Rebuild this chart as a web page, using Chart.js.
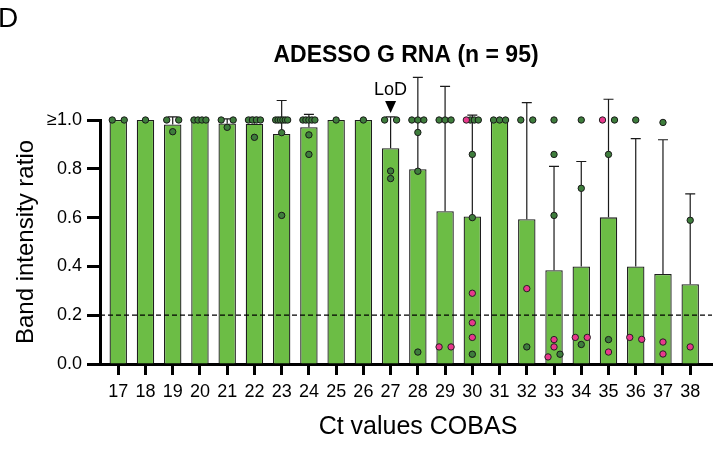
<!DOCTYPE html>
<html>
<head>
<meta charset="utf-8">
<script src="https://cdn.jsdelivr.net/npm/chart.js@4"></script>
<style>
  body { margin: 0; background: #fff; }
  #wrap { width: 717px; height: 450px; position: relative; }
</style>
</head>
<body>
<div id="wrap"><canvas id="band-chart"></canvas></div>
<script>
// Ct values on the x axis
const categories = [17, 18, 19, 20, 21, 22, 23, 24, 25, 26, 27, 28, 29, 30, 31, 32, 33, 34, 35, 36, 37, 38];

// bar height (mean ratio) and top of the error bar for each Ct value
const meanRatio = [1.0, 1.0, 0.982, 1.0, 0.986, 0.985, 0.943, 0.970, 1.0, 1.0, 0.884, 0.798,
                   0.626, 0.605, 1.0, 0.593, 0.384, 0.400, 0.601, 0.400, 0.369, 0.327];
const errorTop = [null, null, 1.013, null, 1.005, 1.011, 1.080, 1.023, null, null, 1.013, 1.175,
                  1.138, 1.020, null, 1.071, 0.810, 0.830, 1.085, 0.924, 0.919, 0.697];

// individual samples, dark green and pink
const greenPoints = [
    [1, 1], [1], [1, 1, 0.952], [1, 1, 1, 1], [1, 1, 0.970], [1, 1, 1, 1, 0.929],
    [1, 1, 1, 1, 1, 1, 0.948, 0.609], [1, 1, 1, 1, 1, 0.939, 0.859], [1], [1],
    [1, 1, 0.791, 0.760], [1, 1, 1, 0.949, 0.790, 0.049], [1, 1, 1],
    [1, 1, 1, 0.859, 0.600, 0.040], [1, 1, 1], [1, 1, 0.070], [1, 0.859, 0.609, 0.040],
    [1, 0.720, 0.080], [1, 0.859, 0.100], [1], [0.990], [0.589]
];
const pinkPoints = [
    [], [], [], [], [], [], [], [], [], [], [], [], [0.070, 0.070],
    [1, 0.290, 0.169, 0.109], [], [0.309], [0.100, 0.070, 0.029],
    [0.109, 0.109], [1, 0.049], [0.101, 0.109], [0.090, 0.041], [0.070]
];

const yTickLabels = ['0.0', '0.2', '0.4', '0.6', '0.8', '≥1.0'];
const cutoff = 0.2;
const lodCategory = 27;

const X_MIN = 16.33;
const X_MAX = 38.8;

Chart.defaults.font.family = '"Liberation Sans", Arial, sans-serif';
Chart.defaults.color = '#000';

// spread samples that sit at (nearly) the same height side by side
function layoutPoints() {
    const green = [], pink = [];
    categories.forEach((cat, i) => {
        const pts = pinkPoints[i].map(v => ({ v, pink: true }))
            .concat(greenPoints[i].map(v => ({ v, pink: false })));
        pts.sort((a, b) => b.v - a.v);
        let groups = [];
        pts.forEach(p => {
            const last = groups[groups.length - 1];
            if (last && Math.abs(last[last.length - 1].v - p.v) < 0.025) last.push(p);
            else groups.push([p]);
        });
        groups.forEach(g => {
            g.sort((a, b) => (b.pink - a.pink));
            const n = g.length;
            g.forEach((p, k) => {
                const dx = n === 1 ? 0 : -0.22 + k * 0.44 / (n - 1);
                (p.pink ? pink : green).push({ x: cat + dx, y: p.v });
            });
        });
    });
    return { green, pink };
}

const pts = layoutPoints();

const errorBars = {
    id: 'errorBars',
    afterDatasetDraw(chart, args) {
        if (args.meta.type !== 'bar') return;
        const { ctx, scales: { x, y } } = chart;
        ctx.save();
        ctx.strokeStyle = '#1a1a1a';
        ctx.lineWidth = 1.2;
        categories.forEach((cat, i) => {
            if (errorTop[i] == null) return;
            const px = x.getPixelForValue(cat);
            const y0 = y.getPixelForValue(meanRatio[i]);
            const y1 = y.getPixelForValue(errorTop[i]);
            ctx.beginPath();
            ctx.moveTo(px, y0);
            ctx.lineTo(px, y1);
            ctx.moveTo(px - 5, y1);
            ctx.lineTo(px + 5, y1);
            ctx.stroke();
        });
        ctx.restore();
    }
};

const annotations = {
    id: 'annotations',
    afterDraw(chart) {
        const { ctx, chartArea, scales: { x, y } } = chart;
        ctx.save();
        // panel letter
        ctx.fillStyle = '#000';
        ctx.font = '28px "Liberation Sans", Arial, sans-serif';
        ctx.textBaseline = 'alphabetic';
        ctx.textAlign = 'left';
        ctx.fillText('D', -2, 27);

        // x axis title, sits a little right of centre
        ctx.font = '25px "Liberation Sans", Arial, sans-serif';
        ctx.textAlign = 'center';
        ctx.textBaseline = 'middle';
        ctx.fillText('Ct values COBAS', (chartArea.left + chartArea.right) / 2 + 12, x.bottom - 23);

        // LoD marker above the Ct 27 bar
        const px = x.getPixelForValue(lodCategory);
        const top = y.getPixelForValue(1);
        ctx.font = '18px "Liberation Sans", Arial, sans-serif';
        ctx.fillText('LoD', px, top - 30);
        ctx.beginPath();
        ctx.moveTo(px - 5.5, top - 19);
        ctx.lineTo(px + 5.5, top - 19);
        ctx.lineTo(px, top - 7);
        ctx.closePath();
        ctx.fill();
        ctx.restore();
    }
};

const ctx = document.getElementById('band-chart').getContext('2d');
const bandChart = new Chart(ctx, {
    data: {
        datasets: [
            {
                type: 'scatter',
                data: pts.pink,
                backgroundColor: '#e8388c',
                borderColor: '#222',
                borderWidth: 1,
                pointRadius: 3.2,
                clip: false
            },
            {
                type: 'scatter',
                data: pts.green,
                backgroundColor: '#3e7d3c',
                borderColor: '#1a1a1a',
                borderWidth: 1,
                pointRadius: 3.2,
                clip: false
            },
            {
                type: 'line',
                data: [{ x: X_MIN, y: cutoff }, { x: X_MAX, y: cutoff }],
                borderColor: '#000',
                borderWidth: 1.2,
                borderDash: [5, 3],
                pointRadius: 0
            },
            {
                type: 'bar',
                data: categories.map((c, i) => ({ x: c, y: meanRatio[i] })),
                backgroundColor: '#6cbd45',
                borderColor: '#1e1e1e',
                borderWidth: 1.3,
                barPercentage: 0.64,
                categoryPercentage: 1
            }
        ]
    },
    options: {
        responsive: true,
        maintainAspectRatio: false,
        animation: false,
        layout: { padding: { left: 0, right: 4, top: 0, bottom: 0 } },
        plugins: {
            legend: { display: false },
            tooltip: { enabled: false },
            title: {
                display: true,
                fullSize: false,
                text: 'ADESSO G RNA (n = 95)',
                color: '#000',
                font: { size: 23, weight: 'bold' },
                padding: { top: 42, bottom: 50.4 }
            }
        },
        scales: {
            x: {
                type: 'linear',
                offset: false,
                min: X_MIN,
                max: X_MAX,
                afterBuildTicks: s => { s.ticks = categories.map(c => ({ value: c })); },
                afterFit: s => { s.height = 86; },
                ticks: {
                    font: { size: 18 },
                    color: '#000',
                    padding: 6,
                    maxRotation: 0,
                    autoSkip: false,
                    callback: v => String(v)
                },
                grid: { offset: false, drawOnChartArea: false, tickLength: 11, tickWidth: 3, tickColor: '#000' },
                border: { color: '#000', width: 3 }
            },
            y: {
                min: 0,
                max: 1,
                afterFit: s => { s.width = 100; },
                ticks: {
                    stepSize: 0.2,
                    font: { size: 18 },
                    color: '#000',
                    padding: 5,
                    callback: (v, i) => yTickLabels[i]
                },
                grid: { drawOnChartArea: false, tickLength: 13, tickWidth: 3, tickColor: '#000' },
                border: { color: '#000', width: 3 },
                title: {
                    display: true,
                    text: 'Band intensity ratio',
                    color: '#000',
                    font: { size: 24 },
                    padding: { top: 12, bottom: 0 }
                }
            }
        }
    },
    plugins: [errorBars, annotations]
});
</script>
</body>
</html>
